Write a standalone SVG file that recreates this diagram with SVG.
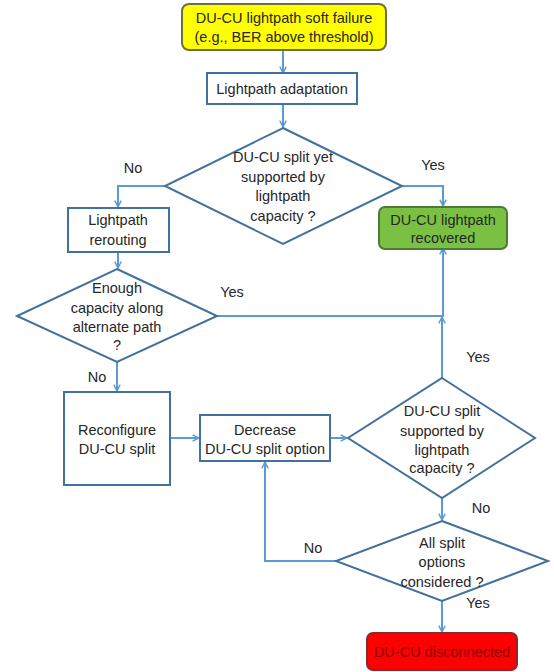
<svg xmlns="http://www.w3.org/2000/svg" width="554" height="672" viewBox="0 0 554 672">
<defs>
<marker id="arr" viewBox="0 0 10 10" refX="9" refY="5" markerWidth="8" markerHeight="8" markerUnits="userSpaceOnUse" orient="auto">
<path d="M1,1 L9,5 L1,9" fill="none" stroke="#5b9bd5" stroke-width="1.8"/>
</marker>
<style>
.t{font-family:"Liberation Sans",Arial,sans-serif;font-size:14.5px;fill:#262626;text-anchor:middle}
.lbl{font-family:"Liberation Sans",Arial,sans-serif;font-size:14.5px;fill:#262626;text-anchor:middle}
.box{fill:#ffffff;stroke:#41719c;stroke-width:2}
.dia{fill:#ffffff;stroke:#41719c;stroke-width:2}
.c{fill:none;stroke:#5b9bd5;stroke-width:2}
</style>
</defs>
<rect width="554" height="672" fill="#ffffff"/>
<g id="connectors">
<path class="c" d="M283,50 V73" marker-end="url(#arr)"/>
<path class="c" d="M283,104 V127" marker-end="url(#arr)"/>
<path class="c" d="M165,186 H118 V207" marker-end="url(#arr)"/>
<path class="c" d="M402,186 H443 V206" marker-end="url(#arr)"/>
<path class="c" d="M118,252 V268" marker-end="url(#arr)"/>
<path class="c" d="M217,316 H443 V248" marker-end="url(#arr)"/>
<path class="c" d="M442,378 V317" marker-end="url(#arr)"/>
<path class="c" d="M117,362 V391" marker-end="url(#arr)"/>
<path class="c" d="M170,438 H199" marker-end="url(#arr)"/>
<path class="c" d="M330,438 H347" marker-end="url(#arr)"/>
<path class="c" d="M442,498 V520" marker-end="url(#arr)"/>
<path class="c" d="M336,561 H265 V462" marker-end="url(#arr)"/>
<path class="c" d="M442,601 V632" marker-end="url(#arr)"/>
</g>
<g id="labels">
<text class="lbl" x="133" y="173">No</text>
<text class="lbl" x="433" y="170">Yes</text>
<text class="lbl" x="232" y="297">Yes</text>
<text class="lbl" x="97" y="382">No</text>
<text class="lbl" x="478" y="362">Yes</text>
<text class="lbl" x="481" y="513">No</text>
<text class="lbl" x="313" y="553">No</text>
<text class="lbl" x="478" y="608">Yes</text>
</g>
<g id="n_start">
<rect x="182" y="4" width="204" height="46" rx="7" fill="#ffff00" stroke="#6f6f3a" stroke-width="2"/>
<text class="t" x="284" y="23">DU-CU lightpath soft failure</text>
<text class="t" x="284" y="42">(e.g., BER above threshold)</text>
</g>
<g id="n_adapt">
<rect class="box" x="207" y="73" width="150" height="31"/>
<text class="t" x="282" y="94">Lightpath adaptation</text>
</g>
<g id="d_split1">
<polygon class="dia" points="283,128 402,186 283,244 165,186"/>
<text class="t" x="283" y="162">DU-CU split yet</text>
<text class="t" x="283" y="182">supported by</text>
<text class="t" x="283" y="201">lightpath</text>
<text class="t" x="283" y="221">capacity ?</text>
</g>
<g id="n_recovered">
<rect x="379" y="207" width="128" height="42" rx="6" fill="#7ac143" stroke="#4e7a36" stroke-width="2"/>
<text class="t" x="443" y="225">DU-CU lightpath</text>
<text class="t" x="443" y="243">recovered</text>
</g>
<g id="n_reroute">
<rect class="box" x="68" y="208" width="101" height="44"/>
<text class="t" x="118" y="225">Lightpath</text>
<text class="t" x="118" y="245">rerouting</text>
</g>
<g id="d_capacity">
<polygon class="dia" points="117,269 217,316 117,362 17,316"/>
<text class="t" x="117" y="293">Enough</text>
<text class="t" x="117" y="313">capacity along</text>
<text class="t" x="117" y="332">alternate path</text>
<text class="t" x="117" y="350">?</text>
</g>
<g id="n_reconf">
<rect class="box" x="64" y="392" width="106" height="93"/>
<text class="t" x="117" y="435">Reconfigure</text>
<text class="t" x="117" y="454">DU-CU split</text>
</g>
<g id="n_decrease">
<rect class="box" x="200" y="415" width="130" height="46"/>
<text class="t" x="265" y="435">Decrease</text>
<text class="t" x="265" y="454">DU-CU split option</text>
</g>
<g id="d_split2">
<polygon class="dia" points="442,378 535,438 442,498 348,438"/>
<text class="t" x="442" y="416">DU-CU split</text>
<text class="t" x="442" y="436">supported by</text>
<text class="t" x="442" y="455">lightpath</text>
<text class="t" x="442" y="473">capacity ?</text>
</g>
<g id="d_all">
<polygon class="dia" points="442,521 548,561 442,601 336,561"/>
<text class="t" x="442" y="548">All split</text>
<text class="t" x="442" y="567">options</text>
<text class="t" x="442" y="587">considered ?</text>
</g>
<g id="n_disconnected">
<rect x="367" y="633" width="150" height="37" rx="6" fill="#ff0000" stroke="#8a2a2a" stroke-width="2"/>
<text class="t" x="442" y="657" style="fill:#8b0000">DU-CU disconnected</text>
</g>
</svg>
